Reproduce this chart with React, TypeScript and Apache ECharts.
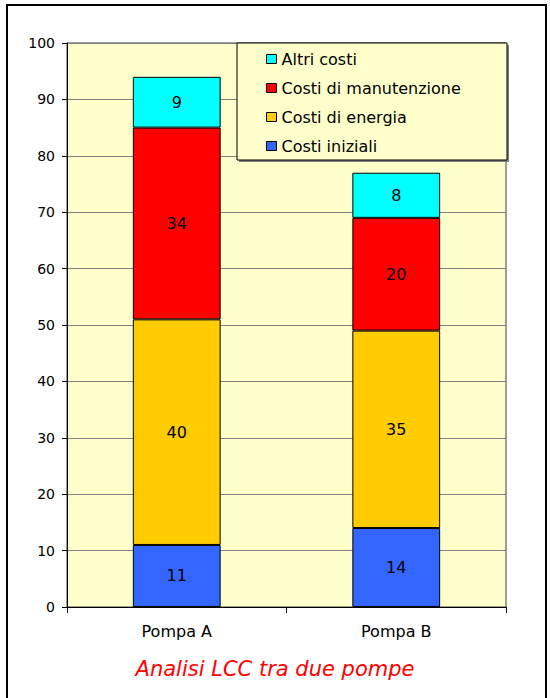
import React, { useEffect, useRef } from "react";
import * as echarts from "echarts";

const categories = ["Pompa A", "Pompa B"];
const costiIniziali = [11, 14];
const costiEnergia = [40, 35];
const costiManutenzione = [34, 20];
const altriCosti = [9, 8];
const legendOrder = ["Altri costi", "Costi di manutenzione", "Costi di energia", "Costi iniziali"];
const titleText = "Analisi LCC tra due pompe";

const FONT = "DejaVu Sans";

export default function App() {
  const ref = useRef<HTMLDivElement>(null);
  useEffect(() => {
    if (!ref.current) return;
    const chart = echarts.init(ref.current, null, { renderer: "svg" });
    const mk = (name: string, data: number[], color: string) => ({
      name,
      type: "bar",
      stack: "total",
      data,
      barWidth: "40%",
      itemStyle: { color, borderColor: "#000", borderWidth: 1 },
      label: {
        show: true,
        position: "inside",
        color: "#000",
        fontSize: 16,
        fontFamily: FONT,
      },
      emphasis: { disabled: true },
    });
    chart.setOption({
      animation: false,
      backgroundColor: "#fff",
      title: {
        text: titleText,
        left: "center",
        top: 653,
        textStyle: {
          color: "#FF0000",
          fontStyle: "italic",
          fontWeight: "normal",
          fontSize: 21,
          fontFamily: FONT,
        },
      },
      graphic: [
        {
          type: "rect",
          z: -10,
          shape: { x: 7, y: 5, width: 539, height: 710 },
          style: { fill: "none", stroke: "#000", lineWidth: 2 },
        },
        {
          type: "rect",
          z: 3,
          shape: { x: 239, y: 45, width: 270, height: 117 },
          style: { fill: "#808080", stroke: "none" },
        },
        {
          type: "rect",
          z: 4,
          shape: { x: 237, y: 43, width: 270, height: 117 },
          style: { fill: "#FFFFCC", stroke: "#000", lineWidth: 1 },
        },
      ],
      legend: {
        data: legendOrder,
        orient: "vertical",
        left: 266,
        top: 51,
        padding: 0,
        itemGap: 13,
        itemWidth: 10,
        itemHeight: 9,
        icon: "rect",
        z: 10,
        itemStyle: { borderColor: "#000", borderWidth: 1 },
        textStyle: {
          color: "#000",
          fontSize: 16,
          lineHeight: 16,
          fontFamily: FONT,
        },
      },
      grid: {
        left: 67,
        right: 44,
        top: 43,
        bottom: 91,
        show: true,
        backgroundColor: "#FFFFCC",
        borderColor: "#404040",
        borderWidth: 1,
      },
      xAxis: {
        type: "category",
        data: categories,
        axisLine: { show: true, lineStyle: { color: "#000", width: 1 } },
        axisTick: { show: true, length: 6, alignWithLabel: false, lineStyle: { color: "#000" } },
        axisLabel: { color: "#000", fontSize: 16, fontFamily: FONT, margin: 16 },
      },
      yAxis: {
        type: "value",
        min: 0,
        max: 100,
        interval: 10,
        axisLine: { show: true, lineStyle: { color: "#000", width: 1 } },
        axisTick: { show: true, length: 5, lineStyle: { color: "#000" } },
        axisLabel: { color: "#000", fontSize: 14, fontFamily: FONT, margin: 12 },
        splitLine: { show: true, lineStyle: { color: "#808080", width: 1 } },
      },
      series: [
        mk("Costi iniziali", costiIniziali, "#3366FF"),
        mk("Costi di energia", costiEnergia, "#FFCC00"),
        mk("Costi di manutenzione", costiManutenzione, "#FF0000"),
        mk("Altri costi", altriCosti, "#00FFFF"),
      ],
    });
    return () => chart.dispose();
  }, []);
  return (
    <div
      ref={ref}
      style={{ position: "absolute", left: 0, top: 0, width: 550, height: 698 }}
    />
  );
}
